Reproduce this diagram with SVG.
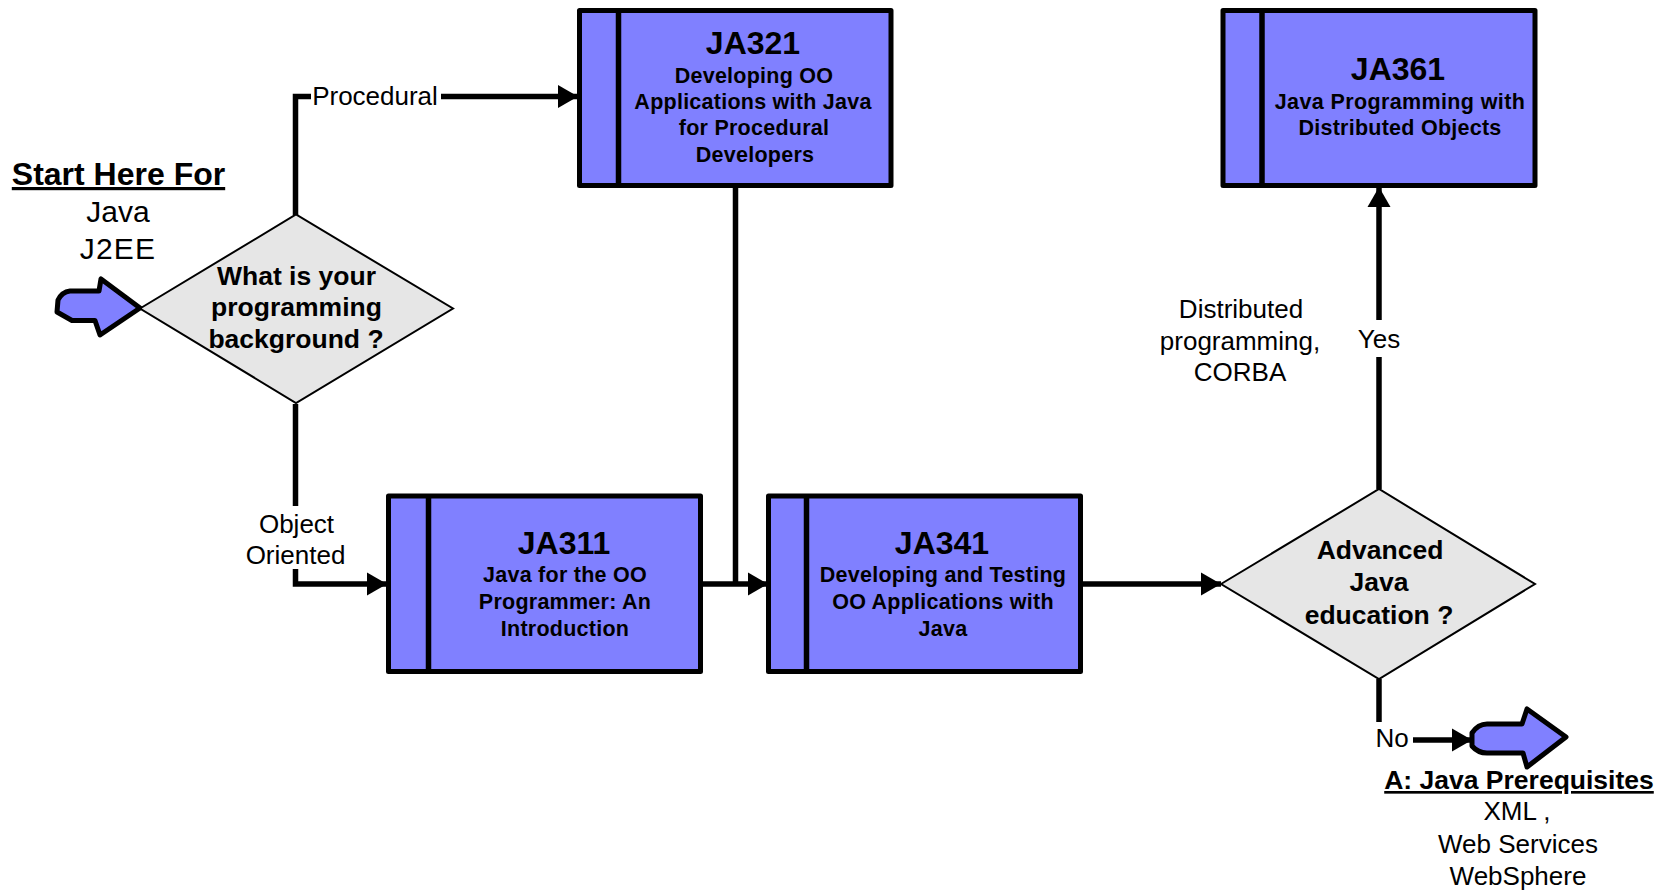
<svg xmlns="http://www.w3.org/2000/svg" width="1657" height="890" viewBox="0 0 1657 890">
<style>
text{font-family:"Liberation Sans",Arial,sans-serif;fill:#000;text-anchor:middle}
.t{font-size:32px;font-weight:700}
.s{font-size:21.5px;font-weight:700;letter-spacing:.25px}
.q{font-size:26.5px;font-weight:700}
.l{font-size:26px}
.b{font-size:30px}
.h{font-weight:700;text-decoration:underline}
.box{fill:#8080ff;stroke:#000;stroke-width:5;stroke-linejoin:round}
.dia{fill:#e6e6e6;stroke:#000;stroke-width:2}
.c{fill:none;stroke:#000;stroke-width:5.5}
.arw{fill:#8080ff;stroke:#000;stroke-width:5;stroke-linejoin:round}
</style>
<defs>
<marker id="a" markerUnits="userSpaceOnUse" markerWidth="21" markerHeight="24" refX="20" refY="12" orient="auto" viewBox="0 0 21 24"><path d="M0 0.500L20 12L0 23.500Z" fill="#000"/></marker>
</defs>
<g id="connectors">
<path class="c" d="M295.500 215V96.500H311"/>
<path class="c" d="M441 96.500H578" marker-end="url(#a)"/>
<path class="c" d="M295.500 404V506"/>
<path class="c" d="M295.500 569V584H387" marker-end="url(#a)"/>
<path class="c" d="M702 584H768" marker-end="url(#a)"/>
<path class="c" d="M735.500 187V584"/>
<path class="c" d="M1081 584H1221" marker-end="url(#a)"/>
<path class="c" d="M1379 489V357"/>
<path class="c" d="M1379 320V187" marker-end="url(#a)"/>
<path class="c" d="M1379 679V722"/>
<path class="c" d="M1413 740H1472" marker-end="url(#a)"/>
</g>
<g id="start">
<text class="h" x="118.500" y="185" font-size="32">Start Here For</text>
<text class="b" x="118" y="222">Java</text>
<text class="b" x="118" y="259" style="letter-spacing:1.200px">J2EE</text>
<path class="arw" d="M101 279L99 291H70Q62 292 58 300L57 312L72 320.500H95L100 335L140 308Z"/>
</g>
<g id="d1">
<polygon class="dia" points="140,308.500 296,214.500 453,308.500 296,403"/>
<text class="q" x="296.500" y="285">What is your</text>
<text class="q" x="296.500" y="316">programming</text>
<text class="q" x="296" y="348">background ?</text>
</g>
<g id="JA321">
<rect class="box" x="579.500" y="10.500" width="311.500" height="175"/>
<path class="c" d="M618.500 10.500V185.500"/>
<text class="t" x="753" y="54">JA321</text>
<text class="s" x="754" y="82.500">Developing OO</text>
<text class="s" x="753" y="109">Applications with Java</text>
<text class="s" x="754" y="135">for Procedural</text>
<text class="s" x="755" y="162">Developers</text>
</g>
<g id="JA361">
<rect class="box" x="1223" y="10.500" width="312" height="175"/>
<path class="c" d="M1262 10.500V185.500"/>
<text class="t" x="1398" y="80">JA361</text>
<text class="s" x="1400" y="109" style="letter-spacing:.38px">Java Programming with</text>
<text class="s" x="1400" y="135">Distributed Objects</text>
</g>
<g id="JA311">
<rect class="box" x="388.500" y="496" width="312" height="175.500"/>
<path class="c" d="M428.500 496V671.500"/>
<text class="t" x="564" y="553.500">JA311</text>
<text class="s" x="565" y="582">Java for the OO</text>
<text class="s" x="565" y="609">Programmer: An</text>
<text class="s" x="565" y="636">Introduction</text>
</g>
<g id="JA341">
<rect class="box" x="768.500" y="496" width="312" height="175.500"/>
<path class="c" d="M806.500 496V671.500"/>
<text class="t" x="942" y="553.500">JA341</text>
<text class="s" x="943" y="582">Developing and Testing</text>
<text class="s" x="943" y="609">OO Applications with</text>
<text class="s" x="943" y="636">Java</text>
</g>
<g id="d2">
<polygon class="dia" points="1221,584 1379,489 1535,584 1379,679"/>
<text class="q" x="1380" y="559">Advanced</text>
<text class="q" x="1379" y="591">Java</text>
<text class="q" x="1379" y="624">education ?</text>
</g>
<g id="end">
<path class="arw" d="M1527 709L1522 724H1487Q1478 724 1472 733V746Q1478 753 1487 753H1523L1527 767L1566 737Z"/>
<text class="h" x="1519" y="789" font-size="26.500">A: Java Prerequisites</text>
<text class="l" x="1517" y="820">XML ,</text>
<text class="l" x="1518" y="853">Web Services</text>
<text class="l" x="1518" y="885">WebSphere</text>
</g>
<g id="labels">
<text class="l" x="375" y="104.500">Procedural</text>
<text class="l" x="296.500" y="533">Object</text>
<text class="l" x="295.500" y="564">Oriented</text>
<text class="l" x="1241" y="318">Distributed</text>
<text class="l" x="1240" y="350">programming,</text>
<text class="l" x="1240" y="381">CORBA</text>
<text class="l" x="1379" y="348">Yes</text>
<text class="l" x="1392" y="747">No</text>
</g>
</svg>
